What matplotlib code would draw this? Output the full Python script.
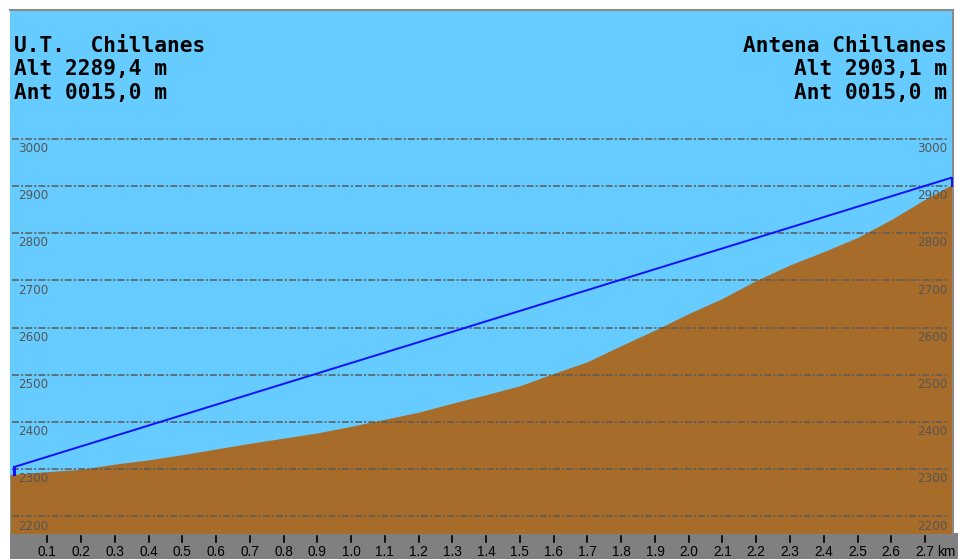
import matplotlib
matplotlib.use("Agg")
import matplotlib.pyplot as plt
import matplotlib.transforms as mtransforms
from matplotlib.patches import Rectangle

# terrain profile along the path (km, m)
dist_km = [0.0, 0.1, 0.2, 0.3, 0.4, 0.5, 0.6, 0.7, 0.8, 0.9, 1.0, 1.1, 1.2, 1.3,
           1.4, 1.5, 1.6, 1.7, 1.8, 1.9, 2.0, 2.1, 2.2, 2.3, 2.4, 2.5, 2.6, 2.7, 2.78]
elev_m = [2289.4, 2295, 2300, 2311, 2320, 2331, 2343, 2355, 2366, 2377, 2391, 2406,
          2421, 2440, 2458, 2477, 2503, 2528, 2562, 2595, 2630, 2662, 2700, 2733,
          2761, 2791, 2829, 2872, 2903.1]

site_a = ["U.T.  Chillanes", "Alt 2289,4 m", "Ant 0015,0 m"]
site_b = ["Antena Chillanes", "Alt 2903,1 m", "Ant 0015,0 m"]
ant_a = 15.0
ant_b = 15.0

grid_levels = [2200, 2300, 2400, 2500, 2600, 2700, 2800, 2900, 3000]
km_ticks = [round(0.1 * i, 1) for i in range(1, 28)]

SKY = "#66CCFF"
GROUND = "#A86C2A"
STRIP = "#808080"
GRID = "#5a5a5a"

W, H = 958, 559
plt.rcParams["lines.scale_dashes"] = False
fig = plt.figure(figsize=(W / 100, H / 100), dpi=100)
fig.patch.set_facecolor("white")

# plot box in pixels
x0, x1, y0, y1 = 10, 953, 26, 549  # y from bottom
ax = fig.add_axes([x0 / W, y0 / H, (x1 - x0) / W, (y1 - y0) / H])
ax.set_facecolor(SKY)
px_per_km = 337.6
ax.set_xlim(-3.5 / px_per_km, (x1 - 13.5) / px_per_km)
ax.set_ylim(2165, 3273)

# grey distance strip under the profile
fig.add_artist(Rectangle((x0 / W, 0), (W - x0) / W, y0 / H, transform=fig.transFigure,
                         facecolor=STRIP, edgecolor="none", zorder=0))

xmin, xmax = ax.get_xlim()
ax.fill_between([xmin] + dist_km, [elev_m[0]] + elev_m, 2100, color=GROUND,
                linewidth=0, zorder=2)

for lvl in grid_levels:
    ax.axhline(lvl, xmin=2 / 943, xmax=937 / 943, color=GRID, lw=1.1,
               dashes=(5, 1.5, 1.5, 1.5), zorder=3)
    ax.annotate(str(lvl), (0, lvl), xycoords=("axes fraction", "data"),
                xytext=(5.5, -2.2), textcoords="offset points", ha="left", va="top",
                fontsize=8.6, color="#555555", zorder=4)
    ax.annotate(str(lvl), (937 / 943, lvl), xycoords=("axes fraction", "data"),
                xytext=(0, -2.2), textcoords="offset points", ha="right", va="top",
                fontsize=8.6, color="#555555", zorder=4)

# line of sight between antenna tops
los_y = [elev_m[0] + ant_a, elev_m[-1] + ant_b]
ax.plot([dist_km[0], dist_km[-1]], los_y, color="#1010ff", lw=1.4, zorder=5,
        solid_capstyle="butt")
ax.plot([dist_km[0], dist_km[0]], [elev_m[0], los_y[0]], color="#1010ff", lw=2.2, zorder=5)
ax.plot([dist_km[-1], dist_km[-1]], [elev_m[-1], los_y[1]], color="#1010ff", lw=2.2, zorder=5)

# distance ticks drawn below the box
trans = ax.get_xaxis_transform()
hpx = y1 - y0
for k in km_ticks:
    ax.plot([k, k], [-3 / hpx, -9 / hpx], color="black", lw=1.2, transform=trans,
            clip_on=False, zorder=6)
    ax.text(k, -12.5 / hpx, f"{k:.1f}", transform=trans, ha="center", va="top",
            fontsize=9.8, family="Liberation Sans", color="black", clip_on=False)
km_trans = mtransforms.offset_copy(trans, fig=fig, x=8.5, y=0, units="points")
ax.text(km_ticks[-1], -12.5 / hpx, "km", transform=km_trans, ha="left", va="top",
        fontsize=9.8, family="Liberation Sans", color="black", clip_on=False)

# site header text
for i, line in enumerate(site_a):
    ax.text(4 / 943, 1 - (36 + 23.5 * i) / hpx, line, transform=ax.transAxes,
            ha="left", va="center", fontsize=15.2, fontweight="bold",
            family="DejaVu Sans Mono", color="black", zorder=7)
for i, line in enumerate(site_b):
    ax.text(937 / 943, 1 - (36 + 23.5 * i) / hpx, line, transform=ax.transAxes,
            ha="right", va="center", fontsize=15.2, fontweight="bold",
            family="DejaVu Sans Mono", color="black", zorder=7)

ax.set_xticks([])
ax.set_yticks([])
for side in ("left", "bottom"):
    ax.spines[side].set_visible(False)
for side in ("top", "right"):
    ax.spines[side].set_color("#8a8a8a")
    ax.spines[side].set_linewidth(1.5)

fig.savefig("out.png", dpi=100, facecolor="white")
